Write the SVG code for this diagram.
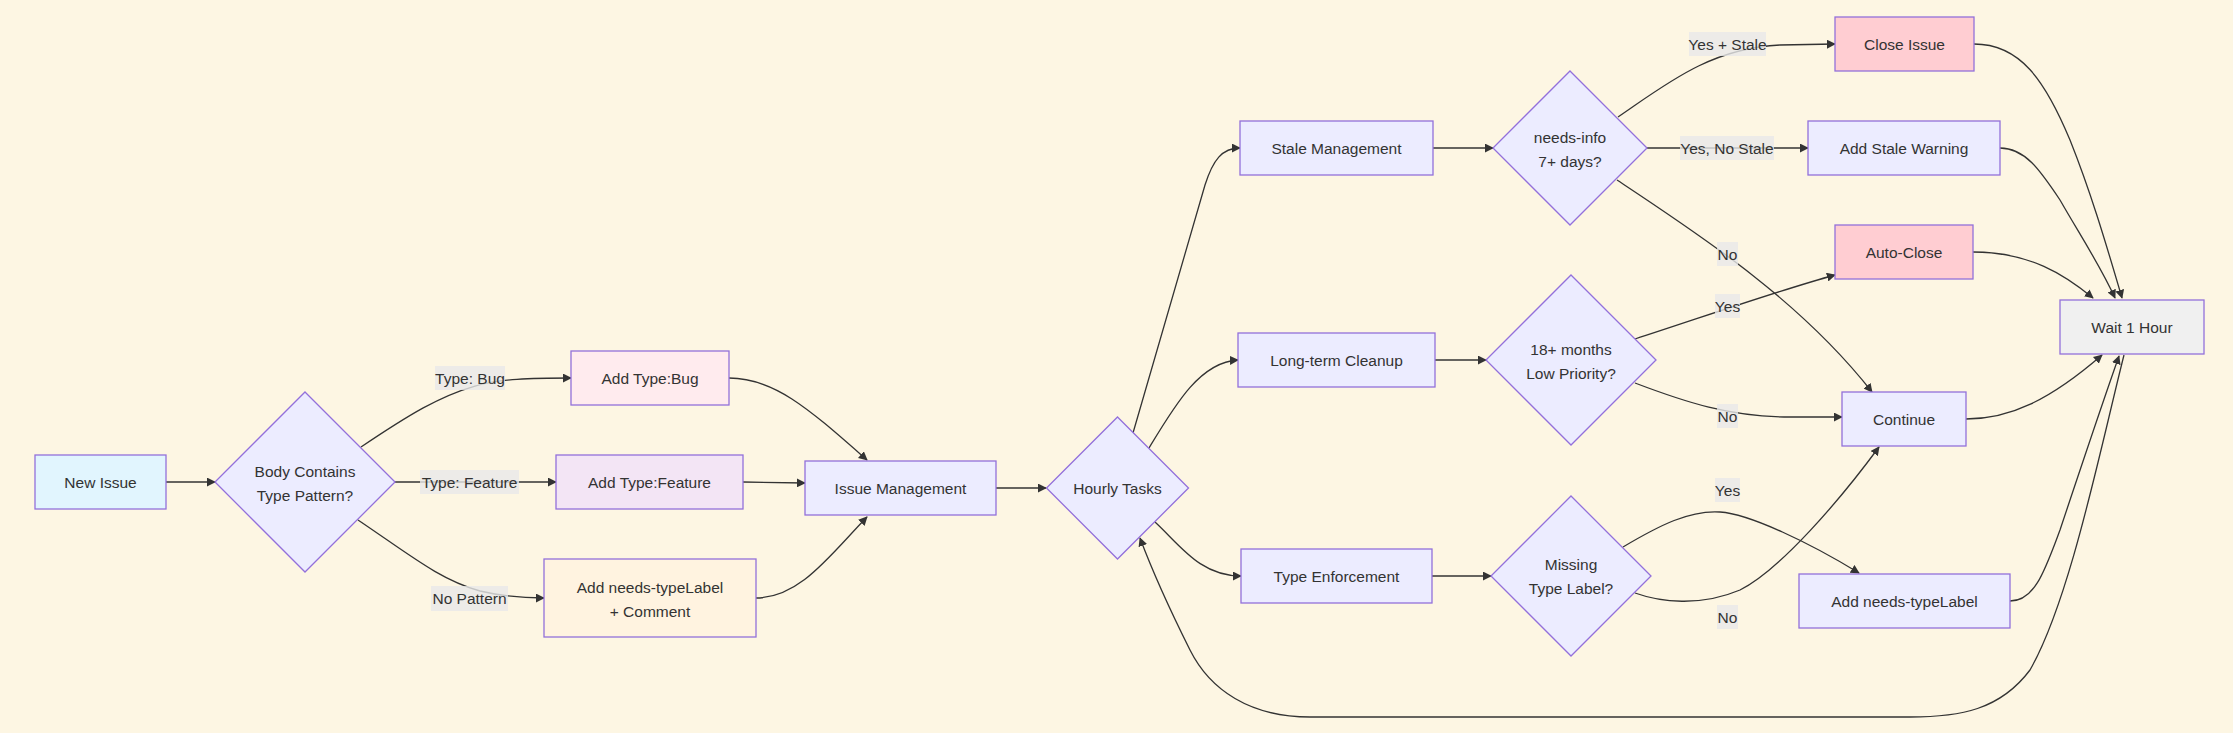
<svg xmlns="http://www.w3.org/2000/svg" width="2233" height="733" viewBox="0 0 2233 733">
<style>
.n{stroke:#9370DB;stroke-width:1.3}
.d{fill:#ECECFF}
.t{font-family:"Liberation Sans",Arial,sans-serif;font-size:15.5px;fill:#333;text-anchor:middle;dominant-baseline:central}
.e{fill:none;stroke:#333;stroke-width:1.3;marker-end:url(#arr)}
.lb{fill:#e8e8e8;fill-opacity:0.8}
</style>
<defs>
<marker id="arr" viewBox="0 0 10 10" refX="9" refY="5" markerWidth="9" markerHeight="9" markerUnits="userSpaceOnUse" orient="auto">
<path d="M0,0 L10,5 L0,10 z" fill="#333"/>
</marker>
</defs>
<rect width="2233" height="733" fill="#fdf6e3"/>
<g id="connectors">
<path class="e" d="M166,482 L215,482"/>
<path class="e" d="M361,447 C410,414 440,396 475,386 C500,379 530,378 571,378"/>
<path class="e" d="M395,482 L556,482"/>
<path class="e" d="M358,520 C410,555 440,580 480,591 C505,597 525,598 544,598"/>
<path class="e" d="M729,378 C775,378 810,410 867,460"/>
<path class="e" d="M743,482 L805,483"/>
<path class="e" d="M756,598 C800,598 830,555 867,517"/>
<path class="e" d="M996,488 L1046,488"/>
<path class="e" d="M1133,433 L1205,185 C1213,160 1222,148 1240,148"/>
<path class="e" d="M1149,448 C1175,405 1200,362 1238,360"/>
<path class="e" d="M1155,522 C1180,545 1200,576 1241,576"/>
<path class="e" d="M1433,148 L1493,148"/>
<path class="e" d="M1435,360 L1486,360"/>
<path class="e" d="M1432,576 L1491,576"/>
<path class="e" d="M1618,117 C1665,85 1710,48 1780,45 L1835,44"/>
<path class="e" d="M1647,148 L1808,148"/>
<path class="e" d="M1617,180 C1700,235 1800,300 1872,392"/>
<path class="e" d="M1635,339 C1700,318 1780,290 1835,275"/>
<path class="e" d="M1635,383 C1685,402 1730,417 1790,417 L1842,417"/>
<path class="e" d="M1966,419 C2010,419 2050,400 2102,355"/>
<path class="e" d="M1623,547 C1660,525 1690,510 1720,512 C1750,514 1810,543 1859,573"/>
<path class="e" d="M1635,593 C1660,602 1700,607 1740,590 C1780,570 1840,500 1879,447"/>
<path class="e" d="M2010,601 C2035,601 2045,570 2060,530 C2080,470 2100,410 2119,356"/>
<path class="e" d="M1974,44 C2020,44 2045,80 2070,140 C2090,190 2105,240 2122,298"/>
<path class="e" d="M2000,148 C2025,148 2040,170 2060,200 C2080,235 2100,265 2115,298"/>
<path class="e" d="M1973,252 C2030,252 2065,275 2093,298"/>
<path class="e" d="M2124,355 C2100,450 2070,600 2030,670 C2000,710 1960,717 1910,717 L1310,717 C1250,717 1210,690 1190,650 C1170,610 1152,570 1140,538"/>
</g>
<g id="edge-labels">
<rect class="lb" x="435" y="366" width="70" height="24"/><text class="t" x="470" y="378">Type: Bug</text>
<rect class="lb" x="420" y="470" width="99" height="24"/><text class="t" x="469.5" y="482">Type: Feature</text>
<rect class="lb" x="431" y="586" width="77" height="25"/><text class="t" x="469.5" y="598">No Pattern</text>
<rect class="lb" x="1689" y="32" width="77" height="24"/><text class="t" x="1727.5" y="44">Yes + Stale</text>
<rect class="lb" x="1680" y="136" width="94" height="24"/><text class="t" x="1727" y="148">Yes, No Stale</text>
<rect class="lb" x="1717" y="242" width="21" height="24"/><text class="t" x="1727.5" y="254">No</text>
<rect class="lb" x="1715" y="294" width="25" height="24"/><text class="t" x="1727.5" y="306">Yes</text>
<rect class="lb" x="1717" y="404" width="21" height="24"/><text class="t" x="1727.5" y="416">No</text>
<rect class="lb" x="1715" y="478" width="25" height="24"/><text class="t" x="1727.5" y="490">Yes</text>
<rect class="lb" x="1717" y="605" width="21" height="24"/><text class="t" x="1727.5" y="617">No</text>
</g>
<g id="new-issue"><rect class="n" x="35" y="455" width="131" height="54" fill="#e1f5fe"/><text class="t" x="100.5" y="482">New Issue</text></g>
<g id="body-contains"><polygon class="n d" points="305,392 395,482 305,572 215,482"/><text class="t" x="305" y="471">Body Contains</text><text class="t" x="305" y="495">Type Pattern?</text></g>
<g id="add-type-bug"><rect class="n" x="571" y="351" width="158" height="54" fill="#ffebee"/><text class="t" x="650" y="378">Add Type:Bug</text></g>
<g id="add-type-feature"><rect class="n" x="556" y="455" width="187" height="54" fill="#f3e5f5"/><text class="t" x="649.5" y="482">Add Type:Feature</text></g>
<g id="add-needs-type-comment"><rect class="n" x="544" y="559" width="212" height="78" fill="#fff3e0"/><text class="t" x="650" y="587">Add needs-typeLabel</text><text class="t" x="650" y="611">+ Comment</text></g>
<g id="issue-management"><rect class="n d" x="805" y="461" width="191" height="54"/><text class="t" x="900.5" y="488">Issue Management</text></g>
<g id="hourly-tasks"><polygon class="n d" points="1117.5,417 1188.5,488 1117.5,559 1046.5,488"/><text class="t" x="1117.5" y="488">Hourly Tasks</text></g>
<g id="stale-management"><rect class="n d" x="1240" y="121" width="193" height="54"/><text class="t" x="1336.5" y="148">Stale Management</text></g>
<g id="needs-info"><polygon class="n d" points="1570,71 1647,148 1570,225 1493,148"/><text class="t" x="1570" y="137">needs-info</text><text class="t" x="1570" y="161">7+ days?</text></g>
<g id="long-term-cleanup"><rect class="n d" x="1238" y="333" width="197" height="54"/><text class="t" x="1336.5" y="360">Long-term Cleanup</text></g>
<g id="eighteen-months"><polygon class="n d" points="1571,275 1656,360 1571,445 1486,360"/><text class="t" x="1571" y="349">18+ months</text><text class="t" x="1571" y="373">Low Priority?</text></g>
<g id="type-enforcement"><rect class="n d" x="1241" y="549" width="191" height="54"/><text class="t" x="1336.5" y="576">Type Enforcement</text></g>
<g id="missing-type"><polygon class="n d" points="1571,496 1651,576 1571,656 1491,576"/><text class="t" x="1571" y="564">Missing</text><text class="t" x="1571" y="588">Type Label?</text></g>
<g id="close-issue"><rect class="n" x="1835" y="17" width="139" height="54" fill="#ffcdd2"/><text class="t" x="1904.5" y="44">Close Issue</text></g>
<g id="add-stale-warning"><rect class="n d" x="1808" y="121" width="192" height="54"/><text class="t" x="1904" y="148">Add Stale Warning</text></g>
<g id="auto-close"><rect class="n" x="1835" y="225" width="138" height="54" fill="#ffcdd2"/><text class="t" x="1904" y="252">Auto-Close</text></g>
<g id="continue"><rect class="n d" x="1842" y="392" width="124" height="54"/><text class="t" x="1904" y="419">Continue</text></g>
<g id="add-needs-type"><rect class="n d" x="1799" y="574" width="211" height="54"/><text class="t" x="1904.5" y="601">Add needs-typeLabel</text></g>
<g id="wait-1-hour"><rect class="n" x="2060" y="300" width="144" height="54" fill="#f0f0f0"/><text class="t" x="2132" y="327">Wait 1 Hour</text></g>
</svg>
